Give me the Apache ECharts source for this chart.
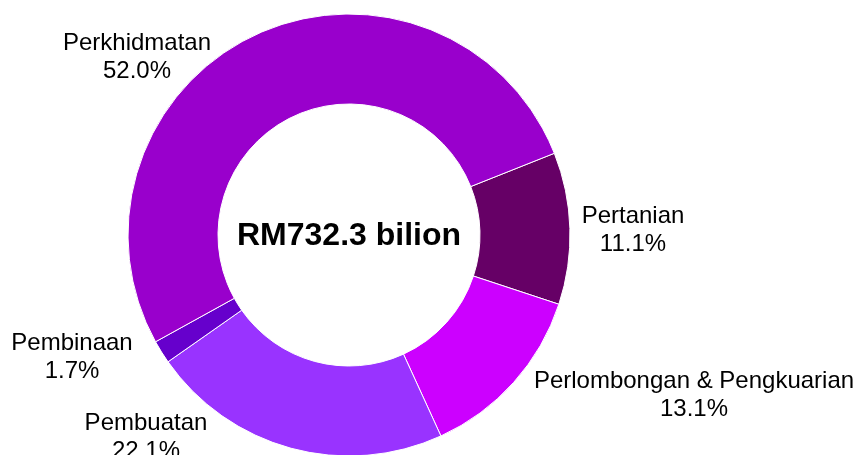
<!DOCTYPE html>
<html>
<head>
<meta charset="utf-8">
<script src="https://cdn.jsdelivr.net/npm/echarts@6/dist/echarts.min.js"></script>
<style>
  html, body { margin: 0; padding: 0; background: #fff; }
  #chart { width: 857px; height: 455px; }
</style>
</head>
<body>
<div id="chart"></div>
<script>
// 数据
let sectors = ['Pertanian', 'Perlombongan & Pengkuarian', 'Pembuatan', 'Pembinaan', 'Perkhidmatan'];
let shares = [11.1, 13.1, 22.1, 1.7, 52.0];
let colors = ['#660066', '#CC00FF', '#9933FF', '#6600CC', '#9900CC'];
let totalText = 'RM732.3 bilion';

// 标签位置 (label block centres)
let labelPos = [[633, 230], [694, 395], [146, 437], [72, 357], [137, 57]];

let chart = echarts.init(document.getElementById('chart'));

let pieData = [];
for (let i = 0; i < sectors.length; i++) {
    pieData.push({
        name: sectors[i],
        value: shares[i],
        itemStyle: { color: colors[i] }
    });
}

chart.setOption({
    animation: false,
    graphic: [{
        type: 'text',
        x: 349,
        y: 236,
        style: {
            text: totalText,
            fontFamily: 'Liberation Sans, Arial, sans-serif',
            fontWeight: 'bold',
            fontSize: 32,
            fill: '#000',
            textAlign: 'center',
            textVerticalAlign: 'middle'
        }
    }],
    series: [{
        type: 'pie',
        center: [349, 235],
        radius: [131, 221],
        startAngle: 21.7,
        clockwise: true,
        avoidLabelOverlap: false,
        itemStyle: {
            borderColor: '#fff',
            borderWidth: 1
        },
        label: {
            show: true,
            position: 'outside',
            fontFamily: 'Liberation Sans, Arial, sans-serif',
            fontSize: 24,
            lineHeight: 28,
            color: '#000',
            align: 'center',
            formatter: function (p) {
                return p.name + '\n' + p.value.toFixed(1) + '%';
            }
        },
        labelLine: { show: false },
        labelLayout: function (params) {
            let pos = labelPos[params.dataIndex];
            return {
                x: pos[0],
                y: pos[1],
                align: 'center',
                verticalAlign: 'middle'
            };
        },
        emphasis: { disabled: true },
        data: pieData
    }]
});
</script>
</body>
</html>
